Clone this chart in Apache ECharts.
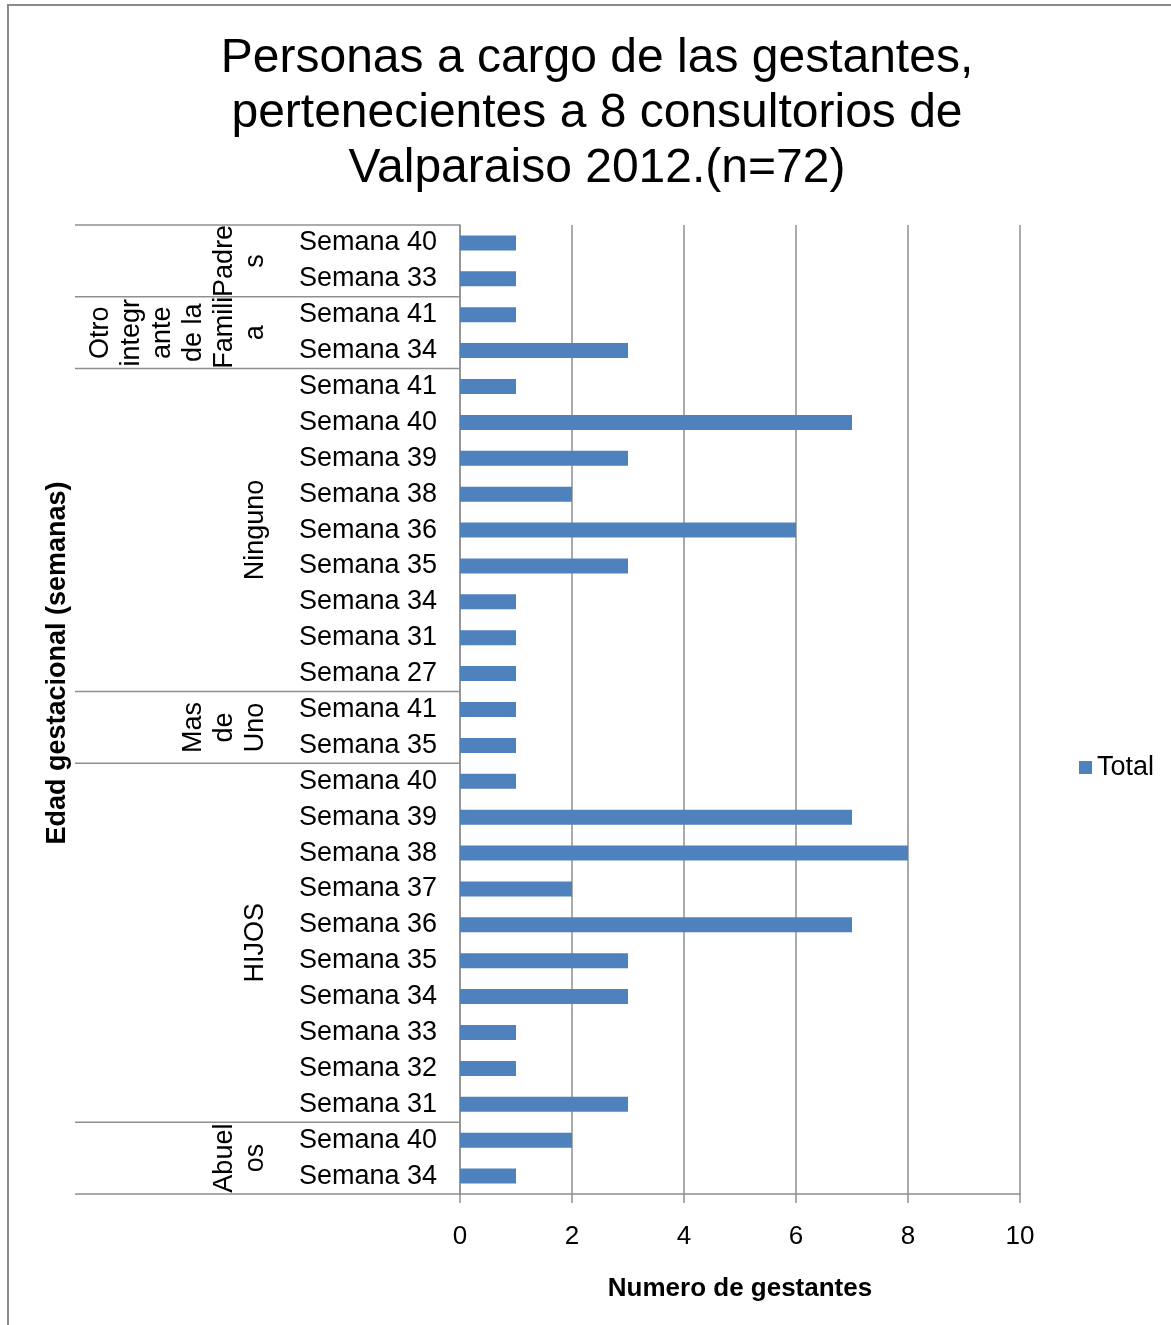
<!DOCTYPE html>
<html>
<head>
<meta charset="utf-8">
<script src="https://cdn.jsdelivr.net/npm/echarts@6/dist/echarts.min.js"></script>
<style>
  html, body { margin: 0; padding: 0; background: #fff; }
  #chart { width: 1171px; height: 1325px; }
</style>
</head>
<body>
<div id="chart"></div>
<script>
// Gestational-week rows, listed top to bottom
const semanas = [
  'Semana 40', 'Semana 33',
  'Semana 41', 'Semana 34',
  'Semana 41', 'Semana 40', 'Semana 39', 'Semana 38', 'Semana 36', 'Semana 35', 'Semana 34', 'Semana 31', 'Semana 27',
  'Semana 41', 'Semana 35',
  'Semana 40', 'Semana 39', 'Semana 38', 'Semana 37', 'Semana 36', 'Semana 35', 'Semana 34', 'Semana 33', 'Semana 32', 'Semana 31',
  'Semana 40', 'Semana 34'
];
// Number of pregnant women per row
const totales = [
  1, 1,
  1, 3,
  1, 7, 3, 2, 6, 3, 1, 1, 1,
  1, 1,
  1, 7, 8, 2, 7, 3, 3, 1, 1, 3,
  2, 1
];
// Outer category groups (who looks after the pregnant woman), wrapped as printed
const grupos = ['Padre\ns', 'Otro\nintegr\nante\nde la\nFamili\na', 'Ninguno', 'Mas\nde\nUno', 'HIJOS', 'Abuel\nos'];
const tamanoGrupo = [2, 2, 9, 2, 10, 2];
// Value-axis ticks
const ejeX = { min: 0, max: 10, interval: 2 };

const FONT = '"Liberation Sans", Arial, sans-serif';
const GRAY = '#8f8f8f';

// unique keys so repeated week names stay separate categories
const claves = semanas.map((s, i) => i + '|' + s);

const chart = echarts.init(document.getElementById('chart'));
chart.setOption({
  animation: false,
  backgroundColor: '#fff',
  title: {
    text: 'Personas a cargo de las gestantes,\npertenecientes a 8 consultorios de\nValparaiso 2012.(n=72)',
    left: 592,
    top: 26,
    textAlign: 'center',
    textStyle: { fontFamily: FONT, fontSize: 48, fontWeight: 'normal', color: '#000', lineHeight: 55 }
  },
  legend: {
    data: ['Total'],
    left: 1074,
    top: 749,
    itemWidth: 13,
    itemHeight: 13,
    icon: 'rect',
    textStyle: { fontFamily: FONT, fontSize: 27, color: '#000' }
  },
  grid: { left: 460, top: 225, width: 560, height: 969, containLabel: false },
  xAxis: {
    type: 'value',
    min: ejeX.min, max: ejeX.max, interval: ejeX.interval,
    name: 'Numero de gestantes',
    nameLocation: 'middle',
    nameGap: 82,
    nameTextStyle: { fontFamily: FONT, fontSize: 26, fontWeight: 'bold', color: '#000' },
    axisLine: { show: true, lineStyle: { color: GRAY, width: 1.5 } },
    axisTick: { show: true, length: 9, lineStyle: { color: GRAY, width: 1.5 } },
    axisLabel: { fontFamily: FONT, fontSize: 26, color: '#000', margin: 30 },
    splitLine: { show: true, lineStyle: { color: GRAY, width: 1.5 } }
  },
  yAxis: {
    type: 'category',
    inverse: true,
    data: claves,
    axisLine: { show: true, lineStyle: { color: GRAY, width: 1.5 } },
    axisTick: { show: false },
    axisLabel: {
      fontFamily: FONT, fontSize: 27, color: '#000', margin: 23, interval: 0,
      formatter: v => v.split('|')[1]
    },
    splitLine: { show: false }
  },
  series: [{
    name: 'Total',
    type: 'bar',
    data: totales,
    barWidth: 15,
    itemStyle: { color: '#4f81bd' }
  }]
});

// Outer group labels, separators and the vertical axis title
function dibujarGrupos() {
  const c0 = chart.convertToPixel({ yAxisIndex: 0 }, claves[0]);
  const c1 = chart.convertToPixel({ yAxisIndex: 0 }, claves[1]);
  const banda = c1 - c0;
  const x0 = chart.convertToPixel({ xAxisIndex: 0 }, 0);
  const elementos = [];
  let inicio = 0;
  const bordes = [c0 - banda / 2];
  grupos.forEach((g, gi) => {
    const fin = inicio + tamanoGrupo[gi];
    const yTop = c0 + (inicio - 0.5) * banda;
    const yBot = c0 + (fin - 0.5) * banda;
    bordes.push(yBot);
    elementos.push({
      type: 'text',
      x: 271,
      y: (yTop + yBot) / 2,
      rotation: Math.PI / 2,
      style: {
        text: g,
        font: '27px ' + FONT,
        fill: '#000',
        align: 'center',
        verticalAlign: 'bottom',
        lineHeight: 31
      }
    });
    inicio = fin;
  });
  bordes.forEach(y => {
    elementos.push({
      type: 'line',
      shape: { x1: 75, y1: y, x2: x0, y2: y },
      style: { stroke: GRAY, lineWidth: 1.5 }
    });
  });
  elementos.push({
    type: 'text',
    x: 58,
    y: 663,
    rotation: Math.PI / 2,
    style: {
      text: 'Edad gestacional (semanas)',
      font: 'bold 27px ' + FONT,
      fill: '#000',
      align: 'center',
      verticalAlign: 'middle'
    }
  });
  elementos.push({
    type: 'rect',
    shape: { x: 8, y: 5, width: 1300, height: 1400 },
    style: { fill: 'none', stroke: '#8a8a8a', lineWidth: 2 }
  });
  chart.setOption({ graphic: elementos });
}
dibujarGrupos();
</script>
</body>
</html>
